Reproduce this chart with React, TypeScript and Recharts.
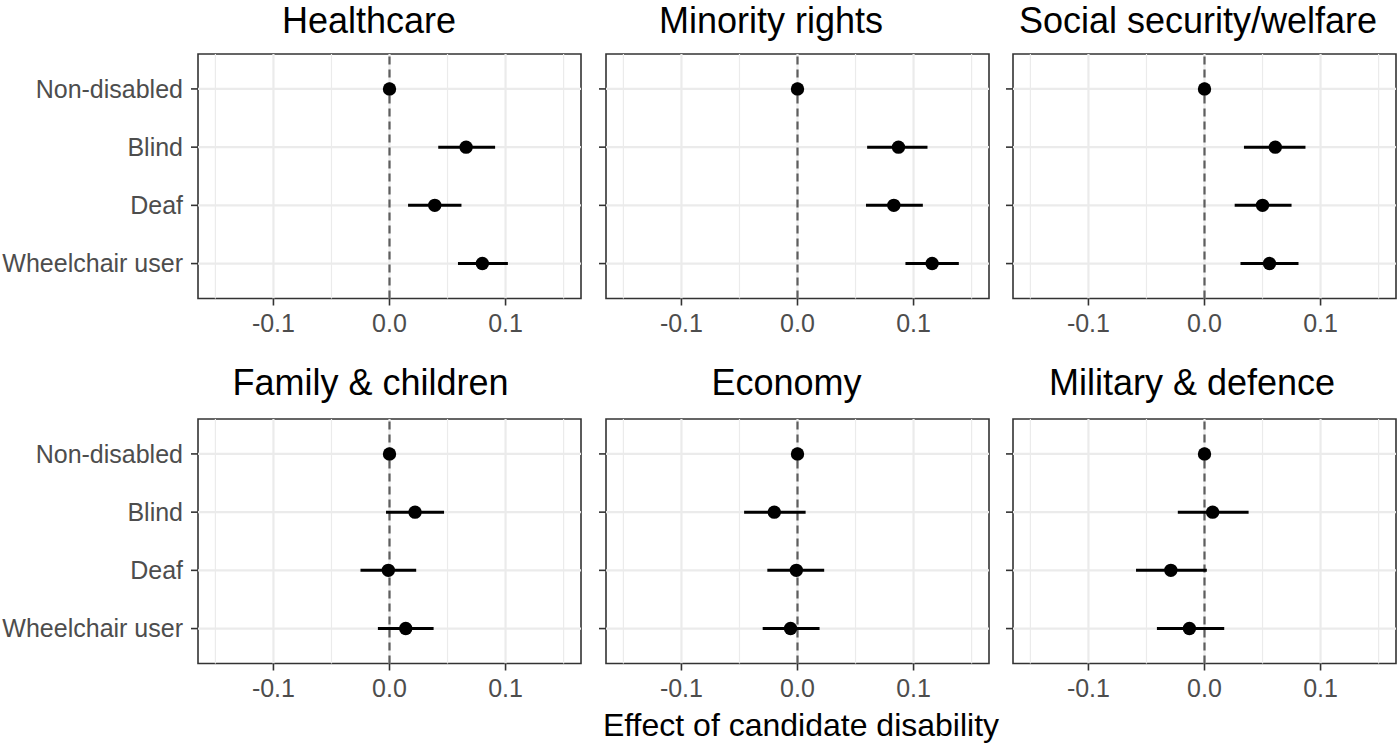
import React from "react";
import { ErrorBar, ReferenceArea, ReferenceLine, Scatter, ScatterChart, XAxis, YAxis } from "recharts";

const groups = ["Non-disabled", "Blind", "Deaf", "Wheelchair user"];
const xTicks = [-0.1, 0, 0.1];
const minorTicks = [-0.15, -0.05, 0.05, 0.15];

// estimate, lower CI, upper CI per group (same order as groups)
const healthcareEst = [0, 0.066, 0.039, 0.080];
const healthcareLow = [0, 0.042, 0.016, 0.059];
const healthcareHigh = [0, 0.091, 0.062, 0.102];

const minorityEst = [0, 0.087, 0.083, 0.116];
const minorityLow = [0, 0.060, 0.059, 0.093];
const minorityHigh = [0, 0.112, 0.108, 0.139];

const welfareEst = [0, 0.061, 0.050, 0.056];
const welfareLow = [0, 0.034, 0.026, 0.031];
const welfareHigh = [0, 0.087, 0.075, 0.081];

const familyEst = [0, 0.022, -0.001, 0.014];
const familyLow = [0, -0.003, -0.025, -0.010];
const familyHigh = [0, 0.047, 0.023, 0.038];

const economyEst = [0, -0.020, -0.001, -0.006];
const economyLow = [0, -0.046, -0.026, -0.030];
const economyHigh = [0, 0.007, 0.023, 0.019];

const militaryEst = [0, 0.007, -0.029, -0.013];
const militaryLow = [0, -0.023, -0.059, -0.041];
const militaryHigh = [0, 0.038, 0.002, 0.017];

const panels = [
  { title: "Healthcare", est: healthcareEst, low: healthcareLow, high: healthcareHigh },
  { title: "Minority rights", est: minorityEst, low: minorityLow, high: minorityHigh },
  { title: "Social security/welfare", est: welfareEst, low: welfareLow, high: welfareHigh },
  { title: "Family & children", est: familyEst, low: familyLow, high: familyHigh },
  { title: "Economy", est: economyEst, low: economyLow, high: economyHigh },
  { title: "Military & defence", est: militaryEst, low: militaryLow, high: militaryHigh },
];

const FONT = "'Liberation Sans', Arial, sans-serif";
const colX = [198, 605.5, 1013];
const rowY = [54, 418.7];
// title centres / baselines as placed in the original figure
const titleX = [369, 771, 1198, 370.5, 786.5, 1192];
const titleBase = [33, 395];
const PW = 383;
const PH = 244.5;
const MT = 10;
const MR = 10;
const XH = 50;

function Panel({ idx }: { idx: number }) {
  const p = panels[idx];
  const r = Math.floor(idx / 3);
  const c = idx % 3;
  const yW = c === 0 ? 198 : 24;
  const data = groups.map((g, i) => ({
    y: i + 1,
    x: p.est[i],
    err: [p.est[i] - p.low[i], p.high[i] - p.est[i]],
  }));
  return (
    <div style={{ position: "absolute", left: colX[c] - yW, top: rowY[r] - MT }}>
      <ScatterChart width={yW + PW + MR} height={MT + PH + XH} margin={{ top: MT, right: MR, left: 0, bottom: 0 }}>
        <XAxis
          type="number"
          dataKey="x"
          domain={[-0.165, 0.165]}
          allowDataOverflow
          ticks={xTicks}
          tickFormatter={(v: number) => v.toFixed(1)}
          axisLine={false}
          tickLine={{ stroke: "#333333", strokeWidth: 1.6 }}
          tickSize={7}
          tickMargin={9}
          height={XH}
          tick={{ fontSize: 25, fill: "#4d4d4d", fontFamily: FONT }}
        />
        <YAxis
          type="number"
          dataKey="y"
          domain={[0.4, 4.6]}
          reversed
          ticks={[1, 2, 3, 4]}
          tickFormatter={(v: number) => (c === 0 ? groups[v - 1] : "")}
          axisLine={false}
          tickLine={{ stroke: "#333333", strokeWidth: 1.6 }}
          tickSize={7}
          tickMargin={8}
          width={yW}
          tick={{ fontSize: 25, fill: "#4d4d4d", fontFamily: FONT }}
        />
        {minorTicks.map((v) => (
          <ReferenceLine key={"mi" + v} x={v} stroke="#ebebeb" strokeWidth={1.2} />
        ))}
        {xTicks.map((v) => (
          <ReferenceLine key={"ma" + v} x={v} stroke="#ebebeb" strokeWidth={2.2} />
        ))}
        {[1, 2, 3, 4].map((v) => (
          <ReferenceLine key={"h" + v} y={v} stroke="#ebebeb" strokeWidth={2.2} />
        ))}
        <ReferenceLine x={0} stroke="#5e5e5e" strokeWidth={2.2} strokeDasharray="8 5" />
        <Scatter data={data} fill="#000000" isAnimationActive={false} shape={(props: any) => <circle cx={props.cx} cy={props.cy} r={6.7} fill="#000" />}>
          <ErrorBar dataKey="err" direction="x" width={0} stroke="#000000" strokeWidth={3} isAnimationActive={false} />
        </Scatter>
        <ReferenceArea x1={-0.165} x2={0.165} y1={0.4} y2={4.6} fill="none" stroke="#333333" strokeWidth={1.6} />
      </ScatterChart>
    </div>
  );
}

export default function App() {
  return (
    <div style={{ position: "absolute", left: 0, top: 0, width: 1400, height: 748, background: "#ffffff", fontFamily: FONT }}>
      {panels.map((_, i) => (
        <Panel key={i} idx={i} />
      ))}
      <svg width={1400} height={748} style={{ position: "absolute", left: 0, top: 0, pointerEvents: "none" }}>
        {panels.map((p, i) => (
          <text
            key={p.title}
            x={titleX[i]}
            y={titleBase[Math.floor(i / 3)]}
            textAnchor="middle"
            fontSize={36}
            fontFamily={FONT}
            fill="#000000"
          >
            {p.title}
          </text>
        ))}
        <text x={801} y={736} textAnchor="middle" fontSize={32} fontFamily={FONT} fill="#000000">
          Effect of candidate disability
        </text>
      </svg>
    </div>
  );
}
